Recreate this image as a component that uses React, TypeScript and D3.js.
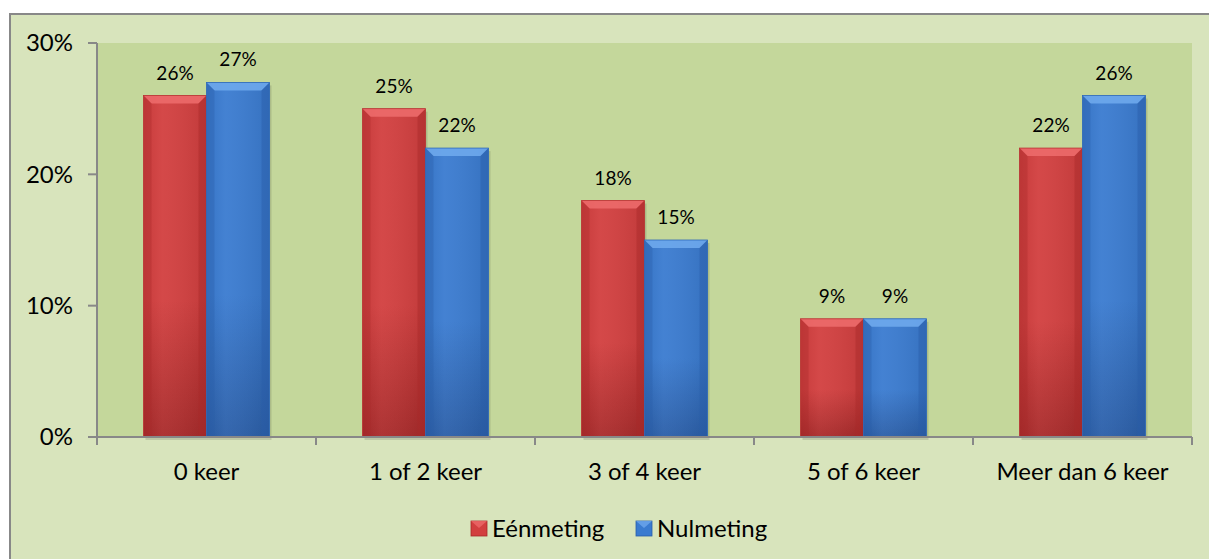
import React from "react";
import * as d3 from "d3";

const categories = ["0 keer", "1 of 2 keer", "3 of 4 keer", "5 of 6 keer", "Meer dan 6 keer"];
const eenmeting = [26, 25, 18, 9, 22];
const nulmeting = [27, 22, 15, 9, 26];
const seriesNames = ["Eénmeting", "Nulmeting"];
const yTicks = [0, 10, 20, 30];

const W = 1209, H = 559;
const plot = { left: 97, top: 43, right: 1192, bottom: 437 };
const FONT = "Lato, 'Open Sans', sans-serif";

const colors = [
  { base: "#d23f3f", light: "#ec6a6a", dark: "#a92a2a", edge: "#b83333" },
  { base: "#3a7bd0", light: "#6ea8ec", dark: "#2a5ea8", edge: "#2f69b8" },
];

function Bar({ x, y, w, h, c, id }: any) {
  const b = Math.min(8, h / 3);
  return (
    <g>
      <rect x={x + 2} y={y + 3} width={w} height={h} fill="#000" opacity={0.12} />
      <rect x={x} y={y} width={w} height={h} fill={`url(#v${id})`} />
      <rect x={x} y={y} width={w} height={h} fill={`url(#h${id})`} />
      <polygon points={`${x},${y} ${x + w},${y} ${x + w - b},${y + b} ${x + b},${y + b}`} fill={c.light} opacity={0.9} />
      <polygon points={`${x},${y} ${x + b},${y + b} ${x + b},${y + h} ${x},${y + h}`} fill={c.dark} opacity={0.35} />
      <polygon points={`${x + w},${y} ${x + w - b},${y + b} ${x + w - b},${y + h} ${x + w},${y + h}`} fill={c.dark} opacity={0.45} />
      <rect x={x} y={y} width={w} height={h} fill="none" stroke={c.edge} strokeWidth={0.8} />
    </g>
  );
}

export default function App() {
  const x0 = d3.scaleBand<string>().domain(categories).range([plot.left, plot.right]).paddingInner(0).paddingOuter(0);
  const groupW = 126;
  const x1 = d3.scaleBand<number>().domain([0, 1]).range([0, groupW]).padding(0);
  const y = d3.scaleLinear().domain([0, 30]).range([plot.bottom, plot.top]);
  const series = [eenmeting, nulmeting];

  return (
    <svg width={W} height={H} style={{ position: "absolute", left: 0, top: 0 }} fontFamily={FONT}>
      <defs>
        {colors.map((c, i) => (
          <React.Fragment key={i}>
            <linearGradient id={`v${i}`} x1="0" y1="0" x2="0" y2="1">
              <stop offset="0%" stopColor={c.base} />
              <stop offset="60%" stopColor={c.base} />
              <stop offset="100%" stopColor={c.dark} />
            </linearGradient>
            <linearGradient id={`h${i}`} x1="0" y1="0" x2="1" y2="0">
              <stop offset="0%" stopColor="#000" stopOpacity={0.05} />
              <stop offset="30%" stopColor="#fff" stopOpacity={0.05} />
              <stop offset="100%" stopColor="#000" stopOpacity={0.08} />
            </linearGradient>
          </React.Fragment>
        ))}
      </defs>
      <rect x={0} y={0} width={W} height={H} fill="#fff" />
      <rect x={10} y={14} width={W} height={H} fill="#d8e4bc" stroke="#888" strokeWidth={2} />
      <rect x={plot.left} y={plot.top} width={plot.right - plot.left} height={plot.bottom - plot.top} fill="#c4d79b" />
      {/* y axis */}
      <line x1={plot.left} x2={plot.left} y1={plot.top} y2={plot.bottom} stroke="#888" strokeWidth={2} />
      {yTicks.map((t) => (
        <g key={t}>
          <line x1={plot.left - 9} x2={plot.left} y1={y(t)} y2={y(t)} stroke="#888" strokeWidth={2} />
          <text x={73} y={y(t)} dy="0.35em" textAnchor="end" fontSize={24} fill="#000">{t}%</text>
        </g>
      ))}
      {/* bars */}
      {categories.map((cat, ci) => {
        const gx = x0(cat)! + (x0.bandwidth() - groupW) / 2;
        return (
          <g key={cat}>
            {series.map((s, si) => {
              const bx = gx + x1(si)!;
              const bw = x1.bandwidth();
              const by = y(s[ci]);
              return (
                <g key={si}>
                  <Bar x={bx} y={by} w={bw} h={plot.bottom - by} c={colors[si]} id={si} />
                  <text x={bx + bw / 2} y={by - 16} textAnchor="middle" fontSize={19} fill="#000">{s[ci]}%</text>
                </g>
              );
            })}
          </g>
        );
      })}
      {/* x axis */}
      <line x1={plot.left} x2={plot.right} y1={plot.bottom} y2={plot.bottom} stroke="#888" strokeWidth={2} />
      {categories.map((cat, i) => (
        <line key={"t" + i} x1={x0(cat)!} x2={x0(cat)!} y1={plot.bottom} y2={plot.bottom + 8} stroke="#888" strokeWidth={2} />
      ))}
      <line x1={plot.right} x2={plot.right} y1={plot.bottom} y2={plot.bottom + 8} stroke="#888" strokeWidth={2} />
      {categories.map((cat) => (
        <text key={cat} x={x0(cat)! + x0.bandwidth() / 2} y={480} textAnchor="middle" fontSize={24} fill="#000">{cat}</text>
      ))}
      {/* legend */}
      {seriesNames.map((n, i) => {
        const lx = [471, 636][i];
        const c = colors[i];
        return (
          <g key={n}>
            <rect x={lx} y={521} width={16} height={15} fill={c.base} stroke={c.dark} strokeWidth={0.8} />
            <polygon points={`${lx},${521} ${lx + 16},${521} ${lx + 8},${528}`} fill={c.light} opacity={0.8} />
            <text x={lx + 21} y={537} fontSize={24} fill="#000">{n}</text>
          </g>
        );
      })}
    </svg>
  );
}
